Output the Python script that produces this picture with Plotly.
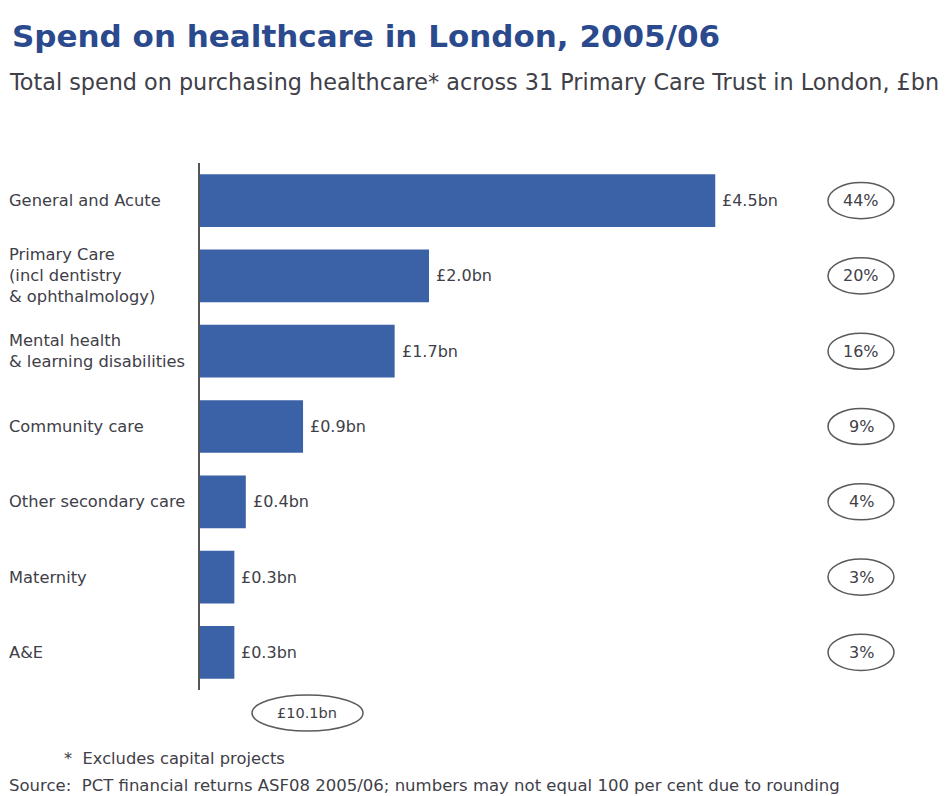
import plotly.graph_objects as go

categories = [
    "General and Acute",
    "Primary Care<br>(incl dentistry<br>& ophthalmology)",
    "Mental health<br>& learning disabilities",
    "Community care",
    "Other secondary care",
    "Maternity",
    "A&E",
]
spend_bn = [4.5, 2.0, 1.7, 0.9, 0.4, 0.3, 0.3]
share_labels = ["44%", "20%", "16%", "9%", "4%", "3%", "3%"]
total_label = "£10.1bn"

BAR = "#3b61a7"
TEXT = "#404048"
FONT = "DejaVu Sans, Verdana, sans-serif"

# plot area in pixels
W, H = 952, 796
L, R, T, B = 200, 52, 163, 106
PW = W - L - R
PH = H - T - B
XMAX = PW / 114.5


def px_x(px):
    return (px - L) / PW


def px_y(py):
    return 1 - (py - T) / PH


fig = go.Figure(
    go.Bar(
        x=spend_bn,
        y=categories,
        orientation="h",
        marker=dict(color=BAR, line=dict(width=0)),
        width=0.7,
        hoverinfo="skip",
    )
)

annotations = []
shapes = []

for i, (cat, val, lab) in enumerate(zip(categories, spend_bn, share_labels)):
    # category label, left aligned
    annotations.append(dict(
        x=px_x(7), xref="paper", y=cat, yref="y",
        text=cat, showarrow=False, xanchor="left", yanchor="middle",
        align="left", font=dict(family=FONT, size=16.3, color=TEXT),
    ))
    # value label just past the bar end
    annotations.append(dict(
        x=val, xref="x", y=cat, yref="y", xshift=5,
        text=f"£{val:.1f}bn", showarrow=False, xanchor="left", yanchor="middle",
        font=dict(family=FONT, size=16, color=TEXT),
    ))
    # share inside an ellipse on the right
    annotations.append(dict(
        x=px_x(861), xref="paper", y=cat, yref="y",
        text=lab, showarrow=False, xanchor="center", yanchor="middle",
        font=dict(family=FONT, size=16, color=TEXT),
    ))
    shapes.append(dict(
        type="circle", xref="paper", yref="y",
        x0=px_x(828), x1=px_x(894), y0=i - 0.24, y1=i + 0.24,
        line=dict(color="#5a5a5a", width=1.5),
    ))

# total ellipse below the axis
annotations.append(dict(
    x=px_x(307), xref="paper", y=px_y(713), yref="paper",
    text=total_label, showarrow=False, xanchor="center", yanchor="middle",
    font=dict(family=FONT, size=14.5, color=TEXT),
))
shapes.append(dict(
    type="circle", xref="paper", yref="paper",
    x0=px_x(252), x1=px_x(363), y0=px_y(731), y1=px_y(695),
    line=dict(color="#5a5a5a", width=1.5),
))

# title, subtitle and footnotes
annotations += [
    dict(x=px_x(10), xref="paper", y=px_y(36), yref="paper",
         text="<b>Spend on healthcare in London, 2005/06</b>",
         showarrow=False, xanchor="left", yanchor="middle",
         font=dict(family=FONT, size=31, color="#2b4a8e")),
    dict(x=px_x(7), xref="paper", y=px_y(82), yref="paper",
         text="Total spend on purchasing healthcare* across 31 Primary Care Trust in London, £bn",
         showarrow=False, xanchor="left", yanchor="middle",
         font=dict(family=FONT, size=22.3, color=TEXT)),
    dict(x=px_x(62), xref="paper", y=px_y(758), yref="paper",
         text="*  Excludes capital projects",
         showarrow=False, xanchor="left", yanchor="middle",
         font=dict(family=FONT, size=16.3, color=TEXT)),
    dict(x=px_x(7), xref="paper", y=px_y(785), yref="paper",
         text="Source:  PCT financial returns ASF08 2005/06; numbers may not equal 100 per cent due to rounding",
         showarrow=False, xanchor="left", yanchor="middle",
         font=dict(family=FONT, size=16.5, color=TEXT)),
]

fig.update_layout(
    width=W, height=H,
    margin=dict(l=L, r=R, t=T, b=B, autoexpand=False),
    paper_bgcolor="white", plot_bgcolor="white",
    showlegend=False,
    annotations=annotations,
    shapes=shapes,
    xaxis=dict(range=[0, XMAX], visible=False, fixedrange=True),
    yaxis=dict(
        autorange="reversed", showticklabels=False, ticks="",
        showgrid=False, zeroline=False,
        showline=True, linecolor="#555555", linewidth=2,
        fixedrange=True,
    ),
)

fig.write_html("out.html")
